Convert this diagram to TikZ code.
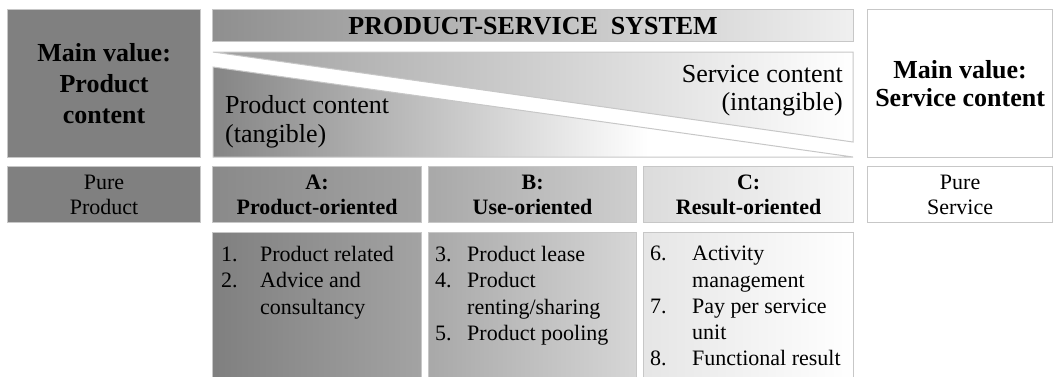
\documentclass[tikz,border=0pt]{standalone}
\usepackage{fontspec}
\setmainfont{Liberation Serif}
\usetikzlibrary{positioning}

\newcommand{\numlab}[2]{\makebox[#1][l]{#2}}
\pgfdeclarehorizontalshading{prodfade}{100bp}{color(0bp)=(gray!50!white); color(25bp)=(black!48); color(59bp)=(white); color(100bp)=(white)}

\begin{document}
\begin{tikzpicture}[x=1pt, y=-1pt,
	box/.style={draw=edgecol, line width=1.2pt, inner sep=0pt, anchor=north west},
	bigtext/.style={font=\fontsize{26}{31}\selectfont\bfseries, align=center},
	midtext/.style={font=\fontsize{22}{25}\selectfont, align=center},
	listtext/.style={font=\fontsize{22}{26.3}\selectfont, align=left, anchor=north west, inner sep=0pt}]
	\definecolor{edgecol}{gray}{0.78}
	\definecolor{darkcol}{gray}{0.5}
	\useasboundingbox (0,0) rectangle (1055,376);
	
	\node[box, fill=darkcol, minimum width=193pt, minimum height=148pt] (mainP) at (7,9) {};
	\node[bigtext] (mainPtxt) at (mainP.center) {Main value:\\Product\\content};
	\node[box, left color=black!44, right color=black!6, minimum width=641pt, minimum height=32pt] (pss) at (212,9) {};
	\node[font=\fontsize{26}{30}\selectfont\bfseries] (psstxt) at (pss.center) {PRODUCT-SERVICE~~SYSTEM};
	\node[box, fill=white, minimum width=185pt, minimum height=148pt] (mainS) at (867,9) {};
	\node[bigtext, font=\fontsize{26}{28}\selectfont\bfseries] (mainStxt) at (mainS.center) {Main value:\\Service content};
	
	\coordinate (tl) at (213,52);
	\coordinate (tr) at (853,52);
	\coordinate (rs) at (853,142);
	\coordinate (lp) at (213,67);
	\coordinate (br) at (853,157);
	\coordinate (bl) at (213,157);
	\shade[draw=edgecol, line width=1pt, left color=black!38, right color=white] (tl) -- (tr) -- (rs) -- cycle;
	\shade[draw=edgecol, line width=1pt, shading=prodfade] (lp) -- (br) -- (bl) -- cycle;
	\node[font=\fontsize{26}{28}\selectfont, align=right, anchor=north east, inner sep=0pt] (servtxt) at (843,65) {Service content\\(intangible)};
	\node[font=\fontsize{26}{29}\selectfont, align=left, anchor=north west, inner sep=0pt] (prodtxt) at (225,95) {Product content\\(tangible)};
	
	\node[box, fill=darkcol, minimum width=193pt, minimum height=56pt] (pureP) at (7,166) {};
	\node[midtext] (purePtxt) at (pureP.center) {Pure\\Product};
	\node[box, left color=black!46, right color=black!36, minimum width=209pt, minimum height=56pt] (typeA) at (212,166) {};
	\node[midtext, font=\fontsize{22}{25}\selectfont\bfseries] (typeAtxt) at (typeA.center) {A:\\Product-oriented};
	\node[box, left color=black!34, right color=black!19, minimum width=208pt, minimum height=56pt] (typeB) at (428,166) {};
	\node[midtext, font=\fontsize{22}{25}\selectfont\bfseries] (typeBtxt) at (typeB.center) {B:\\Use-oriented};
	\node[box, left color=black!14, right color=black!3, minimum width=210pt, minimum height=56pt] (typeC) at (643,166) {};
	\node[midtext, font=\fontsize{22}{25}\selectfont\bfseries] (typeCtxt) at (typeC.center) {C:\\Result-oriented};
	\node[box, fill=white, minimum width=185pt, minimum height=56pt] (pureS) at (867,166) {};
	\node[midtext] (pureStxt) at (pureS.center) {Pure\\Service};
	
	\node[box, left color=black!50, right color=black!36, minimum width=209pt, minimum height=150pt] (listA) at (212,232) {};
	\node[box, left color=black!34, right color=black!16, minimum width=208pt, minimum height=150pt] (listB) at (428,232) {};
	\node[box, left color=black!10, right color=white, minimum width=210pt, minimum height=150pt] (listC) at (643,232) {};
	\node[listtext] (listAtxt) at (221,246) {\numlab{39pt}{1.}Product related\\\numlab{39pt}{2.}Advice and\\\numlab{39pt}{}consultancy};
	\node[listtext] (listBtxt) at (435,246) {\numlab{32pt}{3.}Product lease\\\numlab{32pt}{4.}Product\\\numlab{32pt}{}renting/sharing\\\numlab{32pt}{5.}Product pooling};
	\node[listtext] (listCtxt) at (650,246) {\numlab{42pt}{6.}Activity\\\numlab{42pt}{}management\\\numlab{42pt}{7.}Pay per service\\\numlab{42pt}{}unit\\\numlab{42pt}{8.}Functional result};
\end{tikzpicture}
\end{document}
